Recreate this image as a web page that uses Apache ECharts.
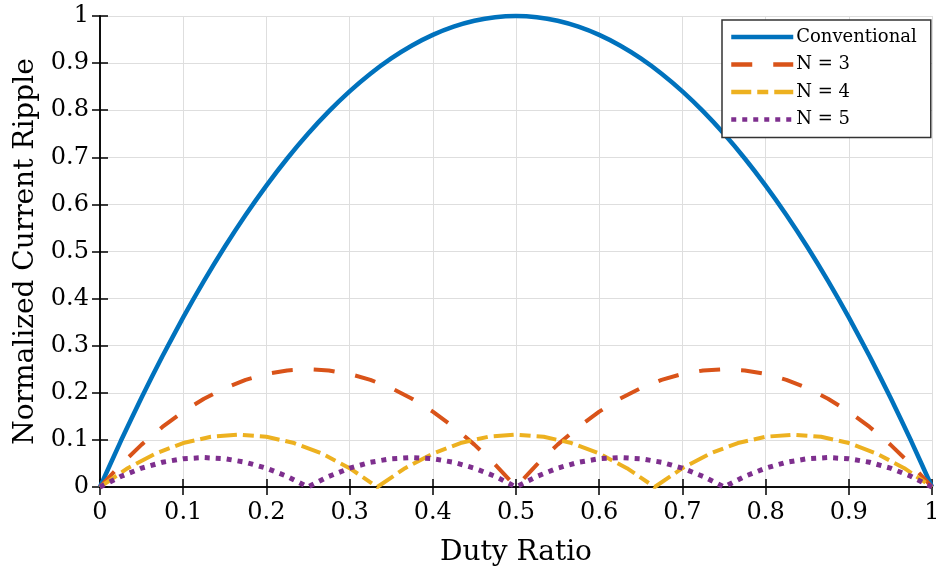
<!DOCTYPE html>
<html>
<head>
<meta charset="utf-8">
<script src="https://cdn.jsdelivr.net/npm/echarts@6/dist/echarts.min.js"></script>
<style>
  html, body { margin: 0; padding: 0; background: #fff; }
  #chart { width: 936px; height: 571px; }
</style>
</head>
<body>
<div id="chart"></div>
<script>
// ---- data ----
const dutyA = [0, 0.025, 0.05, 0.075, 0.1, 0.125, 0.15, 0.175, 0.2, 0.225, 0.25, 0.275, 0.3, 0.325, 0.35, 0.375, 0.4, 0.425, 0.45, 0.475, 0.5, 0.525, 0.55, 0.575, 0.6, 0.625, 0.65, 0.675, 0.7, 0.725, 0.75, 0.775, 0.8, 0.825, 0.85, 0.875, 0.9, 0.925, 0.95, 0.975, 1];
const dutyB = [0, 0.0333, 0.0667, 0.1, 0.1333, 0.1667, 0.2, 0.2333, 0.2667, 0.3, 0.3333, 0.3667, 0.4, 0.4333, 0.4667, 0.5, 0.5333, 0.5667, 0.6, 0.6333, 0.6667, 0.7, 0.7333, 0.7667, 0.8, 0.8333, 0.8667, 0.9, 0.9333, 0.9667, 1];

const conventional = [0, 0.0975, 0.19, 0.2775, 0.36, 0.4375, 0.51, 0.5775, 0.64, 0.6975, 0.75, 0.7975, 0.84, 0.8775, 0.91, 0.9375, 0.96, 0.9775, 0.99, 0.9975, 1, 0.9975, 0.99, 0.9775, 0.96, 0.9375, 0.91, 0.8775, 0.84, 0.7975, 0.75, 0.6975, 0.64, 0.5775, 0.51, 0.4375, 0.36, 0.2775, 0.19, 0.0975, 0];
const n3 = [0, 0.0475, 0.09, 0.1275, 0.16, 0.1875, 0.21, 0.2275, 0.24, 0.2475, 0.25, 0.2475, 0.24, 0.2275, 0.21, 0.1875, 0.16, 0.1275, 0.09, 0.0475, 0, 0.0475, 0.09, 0.1275, 0.16, 0.1875, 0.21, 0.2275, 0.24, 0.2475, 0.25, 0.2475, 0.24, 0.2275, 0.21, 0.1875, 0.16, 0.1275, 0.09, 0.0475, 0];
const n4 = [0, 0.04, 0.0711, 0.0933, 0.1067, 0.1111, 0.1067, 0.0933, 0.0711, 0.04, 0, 0.04, 0.0711, 0.0933, 0.1067, 0.1111, 0.1067, 0.0933, 0.0711, 0.04, 0, 0.04, 0.0711, 0.0933, 0.1067, 0.1111, 0.1067, 0.0933, 0.0711, 0.04, 0];
const n5 = [0, 0.0225, 0.04, 0.0525, 0.06, 0.0625, 0.06, 0.0525, 0.04, 0.0225, 0, 0.0225, 0.04, 0.0525, 0.06, 0.0625, 0.06, 0.0525, 0.04, 0.0225, 0, 0.0225, 0.04, 0.0525, 0.06, 0.0625, 0.06, 0.0525, 0.04, 0.0225, 0, 0.0225, 0.04, 0.0525, 0.06, 0.0625, 0.06, 0.0525, 0.04, 0.0225, 0];

const seriesNames = ['Conventional', 'N = 3', 'N = 4', 'N = 5'];
const xTickLabels = ['0', '0.1', '0.2', '0.3', '0.4', '0.5', '0.6', '0.7', '0.8', '0.9', '1'];
const yTickLabels = ['0', '0.1', '0.2', '0.3', '0.4', '0.5', '0.6', '0.7', '0.8', '0.9', '1'];
const xName = 'Duty Ratio';
const yName = 'Normalized Current Ripple';

// ---- chart ----
const FONT = 'DejaVu Serif';
const pairs = (xs, ys) => xs.map((x, i) => [x, ys[i]]);
const fmt = labels => v => labels[Math.round(v * 10)] ?? '';

const gridLine = { show: true, lineStyle: { color: '#dedede', width: 1 } };
const axLine = { show: true, lineStyle: { color: '#000', width: 1.5 } };
const tick = { show: true, inside: true, length: 8, lineStyle: { color: '#000', width: 1.5 } };

const chart = echarts.init(document.getElementById('chart'), null, { renderer: 'canvas' });
chart.setOption({
  animation: false,
  backgroundColor: '#fff',
  grid: { left: 100, right: 4, top: 16, bottom: 84, containLabel: false, outerBoundsMode: 'none' },
  legend: {
    left: 722, top: 20,
    orient: 'vertical',
    data: seriesNames,
    itemWidth: 62, itemHeight: 18, itemGap: 9.5,
    padding: [8, 14, 9, 7],
    backgroundColor: '#fff',
    borderColor: '#333', borderWidth: 1.5, borderRadius: 0,
    itemStyle: { color: 'rgba(0,0,0,0)', borderWidth: 0 },
    lineStyle: { width: 4.5 },
    textStyle: { fontFamily: FONT, fontSize: 18, color: '#000', padding: [0, 0, 0, -2] }
  },
  xAxis: [{
    type: 'value', min: 0, max: 1, interval: 0.1, position: 'bottom',
    name: xName, nameLocation: 'middle', nameGap: 52,
    nameTextStyle: { fontFamily: FONT, fontSize: 28, color: '#000' },
    axisLine: axLine, axisTick: tick, splitLine: gridLine,
    axisLabel: { formatter: fmt(xTickLabels), fontFamily: FONT, fontSize: 24, color: '#000', margin: 14 }
  }, {
    type: 'value', min: 0, max: 1, interval: 0.1, position: 'top',
    axisLine: axLine, axisTick: tick, splitLine: { show: false }, axisLabel: { show: false }
  }],
  yAxis: [{
    type: 'value', min: 0, max: 1, interval: 0.1, position: 'left',
    name: yName, nameLocation: 'middle', nameGap: 58, nameRotate: 90,
    nameTextStyle: { fontFamily: FONT, fontSize: 28, color: '#000' },
    axisLine: axLine, axisTick: tick, splitLine: gridLine,
    axisLabel: { formatter: fmt(yTickLabels), fontFamily: FONT, fontSize: 24, color: '#000', margin: 11 }
  }, {
    type: 'value', min: 0, max: 1, interval: 0.1, position: 'right',
    axisLine: axLine, axisTick: tick, splitLine: { show: false }, axisLabel: { show: false }
  }],
  series: [
    { name: seriesNames[0], type: 'line', data: pairs(dutyA, conventional), showSymbol: false, symbol: 'none', clip: false,
      smooth: 0.2, color: '#0072BD', lineStyle: { width: 4.5, color: '#0072BD' } },
    { name: seriesNames[1], type: 'line', data: pairs(dutyA, n3), showSymbol: false, symbol: 'none', clip: false,
      color: '#D95319', lineStyle: { width: 4, color: '#D95319', type: [21, 21], cap: 'butt' } },
    { name: seriesNames[2], type: 'line', data: pairs(dutyB, n4), showSymbol: false, symbol: 'none', clip: false,
      color: '#EDB120', lineStyle: { width: 4, color: '#EDB120', type: [20, 6, 11, 6], cap: 'butt' } },
    { name: seriesNames[3], type: 'line', data: pairs(dutyA, n5), showSymbol: false, symbol: 'none', clip: false,
      color: '#7E2F8E', lineStyle: { width: 5, color: '#7E2F8E', type: [5, 6], cap: 'butt' } }
  ]
});
</script>
</body>
</html>
